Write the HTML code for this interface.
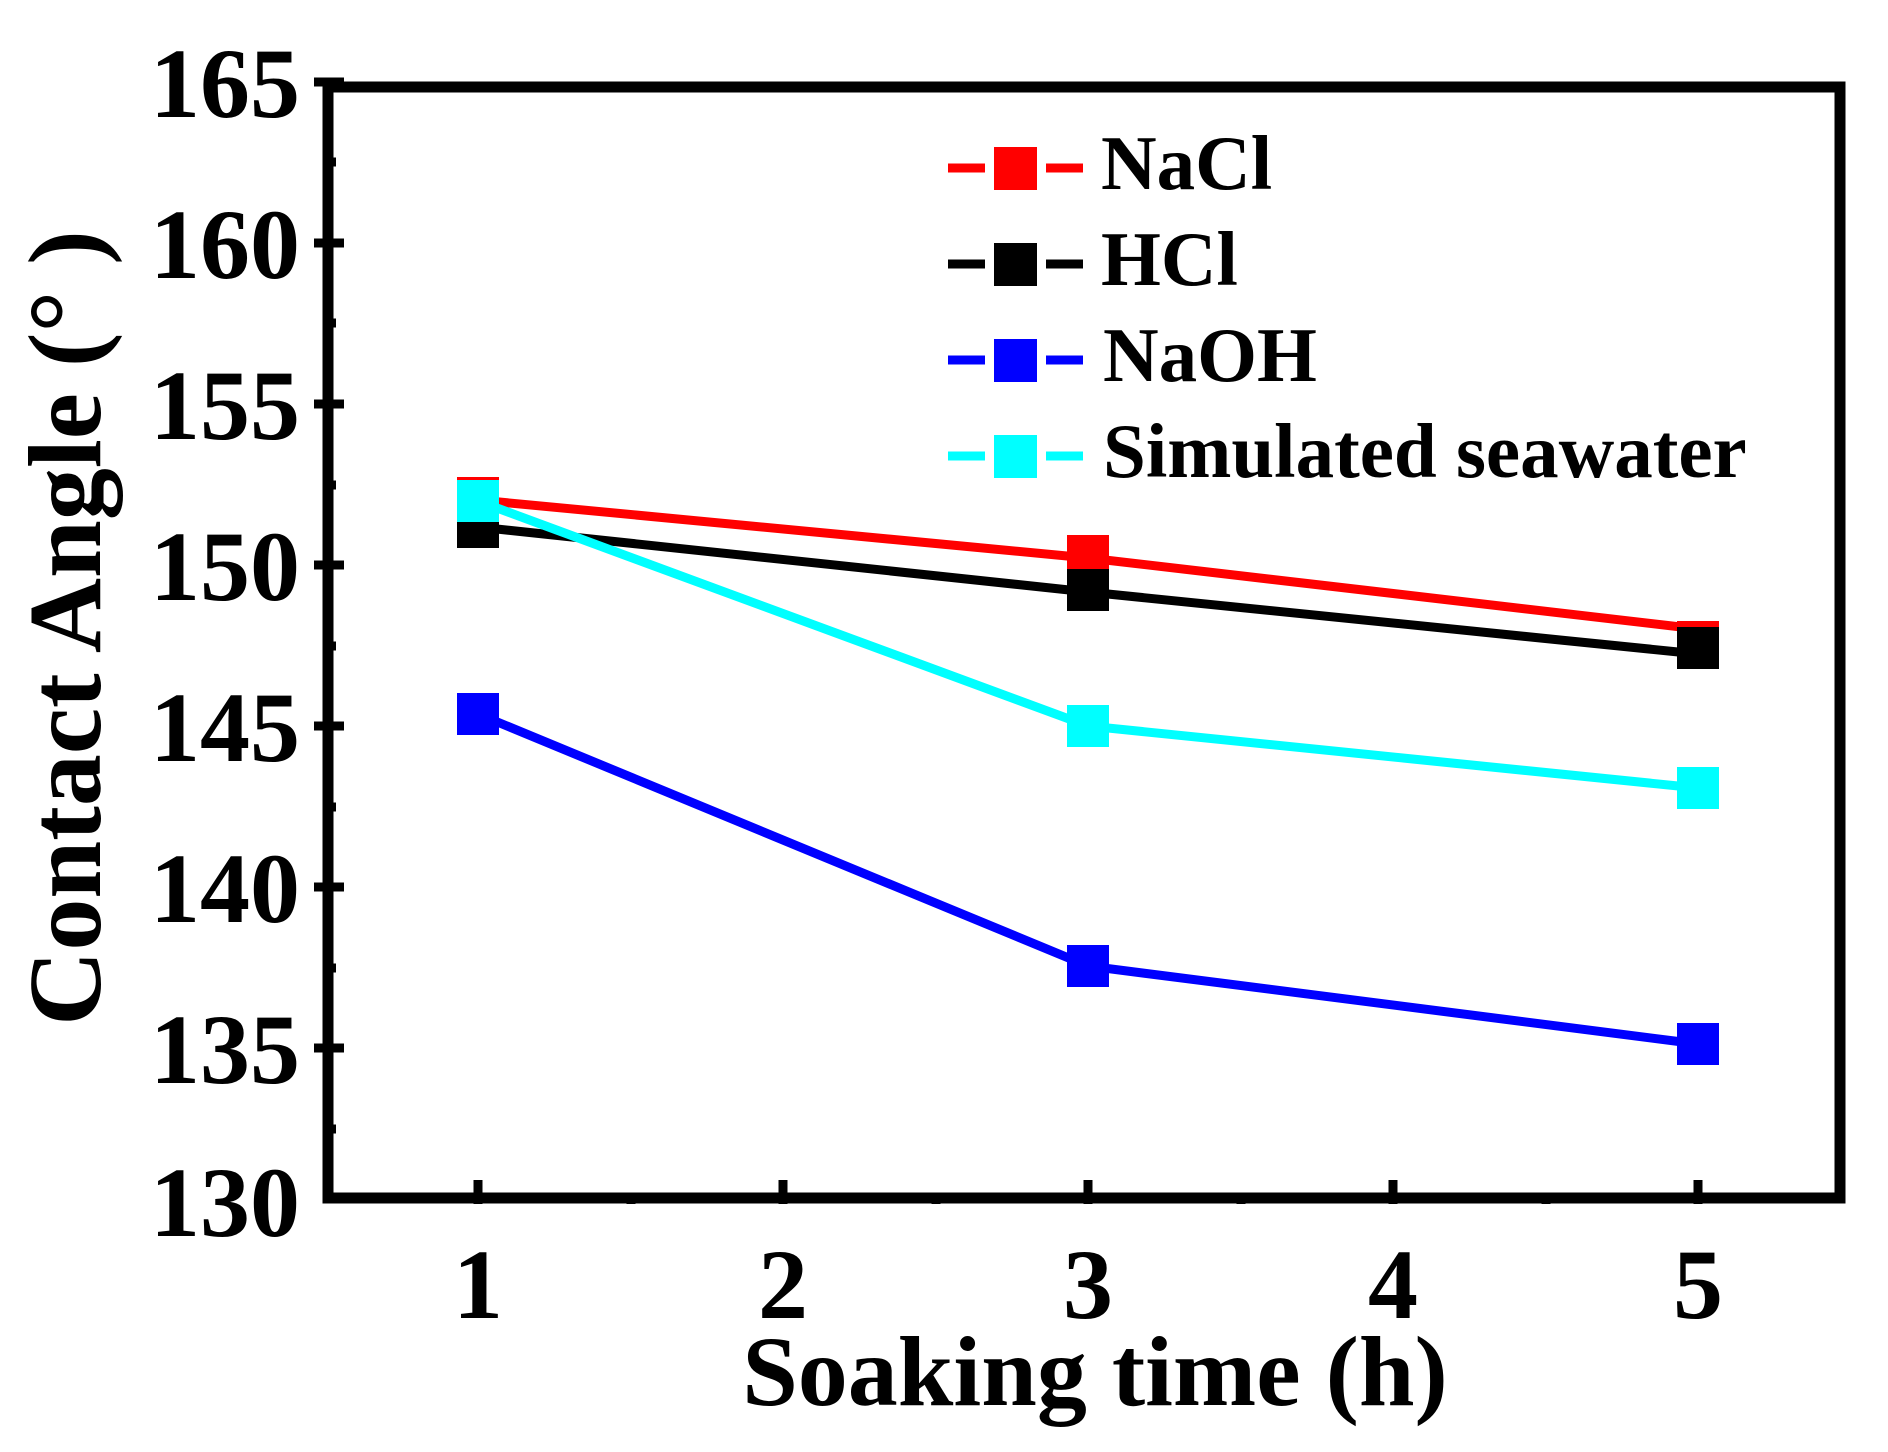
<!DOCTYPE html>
<html><head><meta charset="utf-8"><style>
html,body{margin:0;padding:0;background:#fff}
svg{display:block}
text{font-family:"Liberation Serif",serif;font-weight:bold;fill:#000}
</style></head><body>
<svg width="1888" height="1452" viewBox="0 0 1888 1452" xmlns="http://www.w3.org/2000/svg">
<rect width="1888" height="1452" fill="#fff"/>
<g stroke="#000" stroke-width="9">
<line x1="314" y1="82" x2="344" y2="82"/>
<line x1="314" y1="243" x2="344" y2="243"/>
<line x1="314" y1="404" x2="344" y2="404"/>
<line x1="314" y1="565" x2="344" y2="565"/>
<line x1="314" y1="726" x2="344" y2="726"/>
<line x1="314" y1="887" x2="344" y2="887"/>
<line x1="314" y1="1048" x2="344" y2="1048"/>
<line x1="324" y1="162" x2="336" y2="162"/>
<line x1="324" y1="323" x2="336" y2="323"/>
<line x1="324" y1="485" x2="336" y2="485"/>
<line x1="324" y1="646" x2="336" y2="646"/>
<line x1="324" y1="807" x2="336" y2="807"/>
<line x1="324" y1="968" x2="336" y2="968"/>
<line x1="324" y1="1129" x2="336" y2="1129"/>
<line x1="478" y1="1180" x2="478" y2="1204"/>
<line x1="783" y1="1180" x2="783" y2="1204"/>
<line x1="1088" y1="1180" x2="1088" y2="1204"/>
<line x1="1393" y1="1180" x2="1393" y2="1204"/>
<line x1="1698" y1="1180" x2="1698" y2="1204"/>
<line x1="631" y1="1193" x2="631" y2="1204"/>
<line x1="936" y1="1193" x2="936" y2="1204"/>
<line x1="1241" y1="1193" x2="1241" y2="1204"/>
<line x1="1546" y1="1193" x2="1546" y2="1204"/>
</g>
<rect x="328" y="87" width="1512" height="1111" fill="none" stroke="#000" stroke-width="11"/>
<g font-size="100" text-anchor="end" transform="scale(1,1)">
<text x="300" y="117">165</text>
<text x="300" y="278">160</text>
<text x="300" y="439">155</text>
<text x="300" y="600">150</text>
<text x="300" y="761">145</text>
<text x="300" y="922">140</text>
<text x="300" y="1083">135</text>
<text x="300" y="1236">130</text>
</g>
<g font-size="100" text-anchor="middle">
<text x="478" y="1318">1</text>
<text x="783" y="1318">2</text>
<text x="1088" y="1318">3</text>
<text x="1393" y="1318">4</text>
<text x="1698" y="1318">5</text>
</g>
<text x="1095" y="1405" font-size="100" text-anchor="middle">Soaking time (h)</text>
<text transform="translate(100,628) rotate(-90)" font-size="104" text-anchor="middle">Contact Angle (°  )</text>
<g fill="none" stroke-width="9">
<polyline stroke="#000" points="478,527 1088,592 1698,654"/>
<polyline stroke="#f00" points="478,500 1088,558 1698,629"/>
<polyline stroke="#00f" points="478,714 1088,966 1698,1044"/>
<polyline stroke="#0ff" points="478,501 1088,726 1698,788"/>
</g>
<g>
<rect x="457" y="477" width="42" height="42" fill="#f00"/>
<rect x="457" y="506" width="42" height="42" fill="#000"/>
<rect x="457" y="480" width="42" height="42" fill="#0ff"/>
<rect x="1067" y="535" width="42" height="42" fill="#f00"/>
<rect x="1067" y="569" width="42" height="42" fill="#000"/>
<rect x="1677" y="621" width="42" height="42" fill="#f00"/>
<rect x="1677" y="627" width="42" height="42" fill="#000"/>
<rect x="457" y="693" width="42" height="42" fill="#00f"/>
<rect x="1067" y="945" width="42" height="42" fill="#00f"/>
<rect x="1677" y="1023" width="42" height="42" fill="#00f"/>
<rect x="1067" y="705" width="42" height="42" fill="#0ff"/>
<rect x="1677" y="767" width="42" height="42" fill="#0ff"/>
</g>
<g stroke-width="9">
<line x1="948" y1="168" x2="985" y2="168" stroke="#f00"/><line x1="1046" y1="168" x2="1083" y2="168" stroke="#f00"/>
<line x1="948" y1="264" x2="985" y2="264" stroke="#000"/><line x1="1046" y1="264" x2="1083" y2="264" stroke="#000"/>
<line x1="948" y1="360" x2="985" y2="360" stroke="#00f"/><line x1="1046" y1="360" x2="1083" y2="360" stroke="#00f"/>
<line x1="948" y1="456" x2="985" y2="456" stroke="#0ff"/><line x1="1046" y1="456" x2="1083" y2="456" stroke="#0ff"/>
</g>
<rect x="994" y="147" width="43" height="43" fill="#f00"/>
<rect x="994" y="243" width="43" height="43" fill="#000"/>
<rect x="994" y="339" width="43" height="43" fill="#00f"/>
<rect x="994" y="435" width="43" height="43" fill="#0ff"/>
<g font-size="77">
<text x="1101" y="189">NaCl</text>
<text x="1101" y="285">HCl</text>
<text x="1103" y="381">NaOH</text>
<text x="1103" y="477">Simulated seawater</text>
</g>
</svg>
</body></html>
